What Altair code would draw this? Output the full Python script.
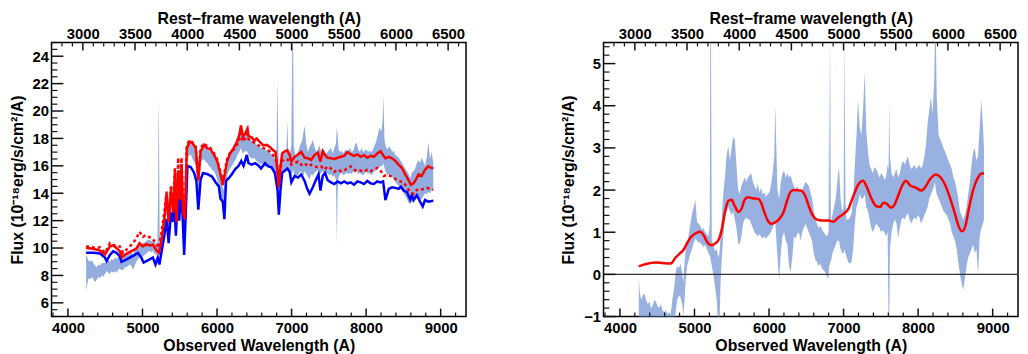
import altair as alt
import pandas as pd

FONT = "Liberation Sans"

X_DOMAIN = [3780, 9340]
REST_DOMAIN = [2700, 6671.43]   # observed / (1 + z), z = 0.4
YL_DOMAIN = [5, 25]
YR_DOMAIN = [-1, 5.5]

X_MAJOR = [4000, 5000, 6000, 7000, 8000, 9000]
X_MINOR = [3800, 4200, 4400, 4600, 4800, 5200, 5400, 5600, 5800, 6200, 6400, 6600, 6800,
           7200, 7400, 7600, 7800, 8200, 8400, 8600, 8800, 9200]
REST_MAJOR = [3000, 3500, 4000, 4500, 5000, 5500, 6000, 6500]
REST_MINOR = [r for r in range(2700, 6700, 100) if r % 500 != 0]
YL_MAJOR = [6, 8, 10, 12, 14, 16, 18, 20, 22, 24]
YL_MINOR = [5 + 0.5 * i for i in range(41) if (5 + 0.5 * i) % 2 != 0]
YR_MAJOR = [-1, 0, 1, 2, 3, 4, 5]
YR_MINOR = [round(-1 + 0.2 * i, 1) for i in range(33) if i % 5 != 0]

# ---- left panel: observed spectrum envelope (wavelength, low, high)
OBS_BAND = [
    (4244, 6.9, 9.5), (4253, 7.2, 9.4), (4275, 7.8, 9.1), (4297, 7.7, 9.0), (4320, 7.9, 9.1),
    (4342, 7.7, 8.9), (4364, 7.5, 8.7), (4386, 7.7, 8.6), (4408, 7.9, 8.8), (4430, 7.8, 8.7),
    (4452, 8.0, 8.9), (4474, 7.9, 8.9), (4497, 8.1, 8.9), (4519, 8.3, 9.0), (4541, 8.2, 9.1),
    (4563, 8.1, 9.0), (4585, 8.3, 9.2), (4607, 8.2, 9.1), (4630, 8.3, 9.3), (4652, 8.2, 9.2),
    (4674, 8.4, 9.4), (4696, 8.5, 9.3), (4718, 8.4, 9.3), (4740, 8.4, 9.4), (4762, 8.6, 9.5),
    (4784, 8.6, 9.6), (4807, 8.7, 9.7), (4829, 8.8, 9.8), (4851, 8.7, 9.7), (4873, 8.4, 9.5),
    (4895, 8.7, 9.8), (4917, 9.0, 10.0), (4939, 9.2, 10.2), (4961, 9.3, 10.3), (4984, 9.2, 10.2),
    (5006, 9.4, 10.4), (5028, 9.5, 10.4), (5050, 9.6, 10.5), (5072, 9.7, 10.6), (5094, 9.8, 10.6),
    (5117, 9.7, 10.5), (5139, 9.8, 10.5), (5161, 9.6, 10.4), (5183, 9.5, 10.3), (5200, 9.6, 10.5),
    (5210, 9.8, 14.0), (5216, 10.0, 20.9), (5222, 9.8, 18.5), (5230, 9.3, 11.0), (5245, 9.4, 10.4),
    (5260, 9.9, 11.0), (5275, 10.5, 11.8), (5293, 11.2, 12.3), (5308, 12.0, 13.3), (5324, 12.6, 14.1),
    (5338, 11.5, 12.8), (5351, 11.0, 12.2), (5366, 12.0, 13.5), (5382, 13.0, 14.4), (5397, 12.0, 13.0),
    (5413, 11.9, 13.0), (5426, 13.3, 15.0), (5435, 14.0, 15.6), (5446, 11.0, 12.4), (5457, 11.2, 12.3),
    (5468, 13.6, 15.2), (5479, 14.0, 15.8), (5491, 12.3, 13.8), (5502, 12.5, 13.8), (5515, 14.2, 15.9),
    (5524, 14.8, 16.3), (5537, 12.6, 14.0), (5550, 10.5, 12.5), (5559, 9.8, 12.0), (5570, 11.5, 13.0),
    (5581, 13.0, 15.5), (5595, 16.0, 17.3), (5612, 16.6, 17.6), (5634, 16.8, 17.8), (5652, 16.8, 17.6),
    (5670, 16.5, 17.5), (5692, 16.3, 17.3), (5714, 16.0, 17.2), (5731, 15.5, 16.5), (5749, 13.0, 15.0),
    (5765, 15.0, 16.4), (5780, 16.2, 17.0), (5803, 16.4, 17.3), (5825, 16.5, 17.5), (5847, 16.3, 17.3),
    (5869, 16.2, 17.2), (5891, 16.0, 17.1), (5913, 15.9, 17.0), (5935, 15.7, 16.9), (5958, 15.6, 16.7),
    (5980, 15.4, 16.5), (6002, 15.0, 16.2), (6024, 14.6, 15.8), (6046, 14.0, 15.3), (6068, 13.2, 14.6),
    (6090, 12.3, 14.2), (6104, 12.5, 15.0), (6121, 14.8, 16.0), (6142, 15.4, 16.4), (6165, 15.7, 16.8),
    (6187, 15.9, 17.0), (6209, 16.1, 17.2), (6231, 16.3, 17.4), (6253, 16.5, 17.6), (6275, 16.8, 17.9),
    (6298, 17.0, 18.2), (6321, 17.3, 18.7), (6343, 16.9, 18.0), (6365, 17.0, 18.3), (6387, 17.1, 18.5),
    (6409, 17.0, 18.3), (6431, 16.7, 18.0), (6453, 16.6, 17.9), (6475, 16.5, 17.8), (6497, 16.6, 17.8),
    (6520, 16.4, 17.6), (6542, 16.3, 17.5), (6564, 16.2, 17.4), (6586, 16.1, 17.3), (6608, 16.2, 17.4),
    (6630, 16.0, 17.2), (6652, 15.9, 17.1), (6675, 16.0, 17.2), (6697, 15.9, 17.0), (6719, 15.8, 16.9),
    (6741, 15.6, 16.8), (6763, 15.4, 16.6), (6785, 15.0, 16.4), (6800, 14.5, 17.5), (6807, 14.0, 22.3),
    (6815, 13.0, 20.0), (6829, 12.3, 15.0), (6845, 14.0, 16.0), (6865, 15.4, 16.6), (6887, 15.6, 16.8),
    (6909, 15.5, 16.9), (6931, 15.6, 17.2), (6943, 15.7, 19.3), (6955, 15.6, 17.0), (6975, 15.3, 16.8),
    (6997, 15.2, 17.5), (7010, 15.5, 25.5), (7020, 15.8, 25.5), (7030, 15.4, 17.5), (7053, 15.2, 16.6),
    (7075, 15.3, 16.8), (7097, 15.4, 17.2), (7119, 15.6, 17.6), (7141, 15.5, 17.8), (7163, 15.3, 18.6),
    (7175, 15.6, 18.9), (7197, 15.4, 17.6), (7219, 15.2, 17.0), (7241, 15.0, 17.4), (7263, 15.4, 17.6),
    (7285, 15.3, 17.9), (7307, 15.5, 17.4), (7330, 15.6, 17.0), (7352, 15.7, 17.2), (7374, 15.3, 17.5),
    (7396, 15.5, 17.0), (7418, 15.6, 17.3), (7440, 15.5, 17.1), (7462, 15.4, 16.9), (7484, 15.5, 17.0),
    (7507, 15.3, 17.2), (7529, 15.4, 17.3), (7551, 15.2, 16.9), (7573, 15.3, 17.3), (7595, 15.0, 17.6),
    (7608, 10.3, 18.8), (7617, 14.0, 18.4), (7630, 15.2, 17.2), (7652, 15.4, 17.0), (7674, 15.5, 17.1),
    (7696, 15.3, 16.9), (7718, 15.4, 17.2), (7740, 15.5, 17.0), (7762, 15.4, 17.1), (7784, 15.5, 17.3),
    (7806, 15.4, 17.0), (7828, 15.6, 17.1), (7850, 15.5, 17.5), (7872, 15.6, 17.7), (7894, 15.4, 17.2),
    (7916, 15.5, 17.0), (7938, 15.4, 17.3), (7960, 15.3, 17.0), (7982, 15.5, 17.1), (8004, 15.6, 17.2),
    (8026, 15.4, 17.0), (8048, 15.5, 17.1), (8070, 15.3, 17.0), (8092, 15.5, 17.2), (8114, 15.6, 17.5),
    (8136, 15.7, 17.8), (8158, 15.8, 18.3), (8180, 15.9, 18.8), (8202, 16.0, 18.5), (8220, 16.0, 19.2),
    (8232, 16.2, 21.1), (8245, 15.9, 18.0), (8260, 15.6, 17.5), (8282, 15.3, 17.2), (8304, 15.4, 17.4),
    (8326, 15.3, 17.3), (8348, 15.2, 17.0), (8370, 15.0, 17.1), (8392, 14.8, 16.8), (8414, 14.7, 16.7),
    (8436, 14.5, 16.6), (8458, 14.3, 16.4), (8481, 14.2, 16.2), (8503, 14.0, 16.0), (8525, 13.8, 15.8),
    (8547, 13.6, 15.6), (8569, 13.3, 15.4), (8591, 13.2, 15.1), (8613, 13.4, 15.5), (8636, 13.3, 15.6),
    (8658, 13.5, 15.8), (8680, 13.7, 16.2), (8702, 13.8, 16.4), (8724, 13.5, 16.2), (8746, 13.6, 16.6),
    (8768, 13.8, 16.3), (8790, 14.0, 16.0), (8813, 13.9, 16.6), (8835, 14.1, 17.7), (8857, 14.0, 16.5),
    (8879, 14.2, 17.0), (8901, 14.3, 16.2),
]

BLUE_MODEL = [
    (4244, 9.65), (4342, 9.65), (4430, 9.6), (4497, 9.3), (4519, 9.05), (4563, 9.5), (4607, 9.76),
    (4652, 9.65), (4696, 9.4), (4718, 9.0), (4762, 9.1), (4829, 9.3), (4895, 9.5), (4939, 9.65),
    (4984, 9.3), (5015, 8.94), (5072, 9.1), (5139, 9.3), (5174, 8.8), (5205, 9.3), (5227, 8.8),
    (5249, 9.5), (5293, 10.9), (5324, 12.1), (5351, 10.35), (5382, 12.6), (5404, 11.9), (5426, 13.5),
    (5448, 10.9), (5471, 13.6), (5493, 12.0), (5515, 14.0), (5537, 12.5), (5559, 9.5), (5581, 12.6),
    (5603, 16.0), (5648, 15.9), (5692, 15.5), (5723, 14.9), (5749, 12.8), (5780, 15.0), (5811, 15.46),
    (5869, 15.4), (5935, 15.2), (5980, 14.8), (6024, 14.5), (6046, 13.6), (6077, 13.4), (6099, 12.1),
    (6121, 14.9), (6157, 15.1), (6201, 15.4), (6245, 15.76), (6290, 16.0), (6325, 16.35), (6356, 16.0),
    (6400, 16.8), (6422, 16.19), (6466, 16.08), (6511, 16.19), (6555, 16.03), (6590, 15.8), (6643, 16.19),
    (6688, 15.96), (6732, 15.89), (6776, 15.49), (6812, 14.2), (6829, 12.44), (6851, 14.2), (6874, 15.49),
    (6909, 15.65), (6944, 15.8), (6975, 15.56), (6997, 14.79), (7042, 15.26), (7086, 15.14), (7130, 15.37),
    (7175, 14.9), (7210, 14.32), (7241, 13.96), (7285, 14.43), (7330, 15.02), (7361, 15.37), (7387, 14.2),
    (7418, 15.26), (7449, 15.49), (7484, 14.95), (7529, 14.79), (7573, 14.67), (7617, 14.86), (7662, 14.72),
    (7706, 14.86), (7750, 14.72), (7794, 14.79), (7839, 14.62), (7883, 14.86), (7927, 14.79), (7972, 14.67),
    (8016, 14.9), (8060, 14.72), (8104, 14.67), (8149, 14.86), (8193, 14.79), (8228, 14.86), (8259, 13.5),
    (8304, 14.32), (8348, 14.43), (8392, 14.39), (8436, 14.32), (8467, 14.48), (8503, 14.2), (8547, 14.08),
    (8591, 13.54), (8613, 13.85), (8636, 13.5), (8680, 13.85), (8724, 13.38), (8759, 13.03), (8790, 13.5),
    (8835, 13.38), (8901, 13.45),
]

RED_MODEL = [
    (4244, 10.0), (4342, 9.95), (4430, 9.81), (4497, 9.53), (4563, 10.12), (4607, 10.19), (4652, 10.0),
    (4696, 9.77), (4727, 9.34), (4784, 9.58), (4851, 9.77), (4917, 9.95), (4961, 10.35), (5006, 10.12),
    (5050, 10.28), (5094, 10.19), (5139, 10.24), (5183, 9.88), (5218, 9.65), (5249, 10.35), (5293, 12.12),
    (5324, 14.0), (5351, 11.88), (5382, 14.24), (5413, 12.59), (5435, 15.53), (5457, 11.88), (5479, 15.65),
    (5502, 13.53), (5524, 16.12), (5546, 12.59), (5568, 12.2), (5595, 17.29), (5634, 17.76), (5670, 17.65),
    (5714, 17.29), (5749, 14.94), (5780, 17.06), (5825, 17.53), (5869, 17.29), (5913, 17.18), (5958, 16.82),
    (6002, 16.35), (6046, 15.41), (6077, 14.59), (6104, 15.41), (6135, 16.35), (6179, 16.94), (6223, 17.29),
    (6267, 17.76), (6298, 18.23), (6321, 18.94), (6347, 18.12), (6378, 18.35), (6409, 18.71), (6422, 18.19),
    (6466, 18.07), (6502, 17.84), (6533, 18.0), (6577, 17.72), (6621, 17.49), (6665, 17.53), (6710, 17.37),
    (6754, 17.13), (6785, 17.02), (6812, 15.61), (6829, 14.43), (6851, 15.96), (6874, 16.9), (6909, 17.06),
    (6944, 17.13), (6975, 16.78), (6997, 16.31), (7042, 16.66), (7086, 16.83), (7130, 17.02), (7175, 16.59),
    (7219, 16.55), (7263, 16.43), (7307, 16.78), (7352, 16.97), (7387, 16.31), (7418, 17.06), (7449, 16.78),
    (7484, 16.59), (7529, 16.55), (7573, 16.5), (7617, 16.59), (7662, 16.66), (7706, 16.73), (7750, 17.02),
    (7794, 16.83), (7839, 16.73), (7883, 16.83), (7927, 16.66), (7972, 16.78), (8016, 16.59), (8060, 16.73),
    (8104, 16.66), (8149, 16.9), (8193, 17.06), (8228, 16.78), (8259, 16.55), (8304, 16.66), (8348, 16.55),
    (8392, 16.36), (8436, 16.08), (8481, 15.84), (8525, 15.37), (8569, 14.95), (8600, 14.62), (8636, 14.72),
    (8671, 15.02), (8702, 15.37), (8746, 15.26), (8790, 15.72), (8835, 15.96), (8879, 15.84), (8901, 15.84),
]

RED_DOTTED = [
    (4244, 10.12), (4297, 10.12), (4342, 10.05), (4386, 10.0), (4430, 10.05), (4497, 9.65), (4563, 10.35),
    (4607, 10.24), (4652, 10.12), (4696, 10.12), (4740, 9.65), (4807, 10.0), (4873, 10.35), (4917, 10.71),
    (4961, 11.18), (5006, 10.82), (5041, 10.94), (5085, 10.82), (5130, 10.71), (5183, 10.35), (5218, 10.0),
    (5249, 10.94), (5293, 12.59), (5324, 14.12), (5351, 12.12), (5382, 14.59), (5413, 12.82), (5435, 15.88),
    (5457, 12.12), (5479, 16.59), (5502, 13.77), (5524, 16.59), (5546, 12.82), (5568, 12.12), (5595, 17.53),
    (5634, 17.88), (5670, 17.72), (5714, 17.41), (5749, 15.06), (5780, 17.29), (5825, 17.65), (5869, 17.41),
    (5913, 17.29), (5958, 16.94), (6002, 16.47), (6046, 15.53), (6077, 14.82), (6104, 15.65), (6135, 16.47),
    (6179, 17.01), (6223, 17.18), (6267, 17.53), (6298, 17.88), (6321, 18.59), (6347, 17.76), (6378, 18.0),
    (6409, 18.35), (6422, 17.96), (6488, 17.72), (6555, 17.49), (6621, 17.3), (6688, 17.13), (6754, 16.78),
    (6798, 16.31), (6829, 14.9), (6865, 16.31), (6909, 16.5), (6953, 16.43), (6997, 16.08), (7042, 16.2),
    (7086, 16.31), (7130, 16.08), (7175, 16.2), (7219, 15.96), (7263, 16.08), (7307, 15.96), (7352, 15.89),
    (7396, 15.96), (7440, 15.72), (7484, 15.96), (7529, 15.8), (7573, 15.56), (7617, 15.72), (7662, 15.61),
    (7706, 15.65), (7750, 15.84), (7794, 15.96), (7839, 15.72), (7883, 15.61), (7927, 15.65), (7972, 15.56),
    (8016, 15.72), (8060, 15.61), (8104, 15.72), (8149, 15.84), (8193, 15.65), (8237, 15.26), (8281, 15.33),
    (8326, 15.26), (8370, 15.14), (8414, 14.95), (8458, 14.86), (8503, 14.79), (8547, 14.43), (8591, 14.08),
    (8636, 13.96), (8680, 14.25), (8724, 14.2), (8768, 14.32), (8813, 14.39), (8857, 14.32), (8901, 14.25),
]

# ---- right panel: residual spectrum envelope (wavelength, low, high) and smooth fit
RES_BAND = [
    (4253, -1.3, -0.05), (4265, -1.3, -0.4), (4284, -1.3, -0.6), (4306, -1.3, -0.5), (4328, -1.3, -0.45),
    (4350, -1.3, -0.6), (4372, -1.3, -0.7), (4394, -1.3, -0.65), (4416, -1.3, -0.8), (4438, -1.3, -0.75),
    (4460, -1.3, -0.6), (4483, -1.3, -0.65), (4505, -1.3, -0.75), (4527, -1.3, -0.8), (4549, -1.3, -0.7),
    (4571, -1.3, -0.85), (4593, -1.3, -0.9), (4615, -1.3, -0.85), (4637, -1.3, -0.95), (4659, -1.3, -0.9),
    (4681, -1.3, -0.95), (4703, -1.3, -0.6), (4725, -1.2, -0.35), (4747, -0.9, 0.05), (4769, -0.6, 0.2),
    (4791, -0.5, 0.15), (4813, -0.55, 0.25), (4835, -0.7, 0.05), (4850, -0.98, -0.2), (4868, -0.6, 0.3),
    (4880, -0.2, 0.55), (4901, 0.2, 0.75), (4924, 0.35, 0.95), (4946, 0.5, 1.2), (4968, 0.6, 1.45),
    (4990, 0.75, 1.6), (5012, 0.85, 1.77), (5034, 0.8, 1.25), (5056, 0.75, 1.2), (5078, 0.75, 1.15),
    (5100, 0.7, 1.05), (5122, 0.65, 1.1), (5144, 0.7, 1.0), (5166, 0.6, 0.95), (5188, 0.5, 0.9),
    (5205, 0.45, 1.2), (5212, 0.4, 5.6), (5222, 0.3, 5.6), (5232, 0.2, 0.8), (5254, 0.0, 0.7),
    (5276, -0.3, 0.55), (5298, -0.6, 0.6), (5320, -1.3, 0.4), (5335, -1.3, 0.5), (5350, -0.2, 0.9),
    (5364, 0.3, 1.3), (5386, 0.9, 1.9), (5408, 1.3, 2.3), (5430, 1.5, 2.8), (5453, 1.6, 3.05),
    (5475, 1.5, 2.7), (5497, 1.4, 3.0), (5519, 1.5, 3.26), (5541, 1.3, 3.2), (5563, 1.1, 2.6),
    (5585, 0.75, 2.0), (5607, 0.7, 1.9), (5629, 0.9, 2.1), (5651, 1.2, 2.2), (5673, 1.3, 2.3),
    (5695, 1.35, 2.2), (5717, 1.3, 2.3), (5739, 1.3, 2.35), (5761, 1.2, 2.4), (5783, 1.1, 2.2),
    (5805, 1.0, 2.1), (5827, 0.95, 2.0), (5849, 0.9, 2.15), (5871, 0.95, 1.95), (5893, 0.9, 2.05),
    (5915, 0.85, 1.9), (5937, 0.9, 1.95), (5959, 0.85, 1.85), (5982, 0.9, 1.9), (6004, 0.95, 1.95),
    (6026, 1.0, 2.1), (6048, 1.1, 2.4), (6070, 1.2, 2.8), (6085, 1.2, 4.0), (6095, 0.9, 3.2),
    (6114, 0.4, 2.0), (6136, -0.14, 1.8), (6158, 0.5, 2.2), (6180, 0.9, 2.4), (6202, 1.0, 2.46),
    (6224, 0.8, 2.3), (6246, 0.7, 2.4), (6268, 0.2, 2.3), (6290, 0.05, 2.35), (6312, 0.4, 2.2),
    (6334, 0.9, 2.1), (6356, 0.85, 2.0), (6378, 0.95, 2.1), (6400, 1.0, 2.0), (6423, 0.8, 1.95),
    (6445, 1.0, 2.0), (6467, 1.1, 2.1), (6489, 1.2, 2.2), (6511, 1.1, 2.15), (6533, 1.0, 2.1),
    (6555, 0.9, 1.95), (6577, 0.8, 1.8), (6600, 0.5, 1.5), (6621, 0.35, 1.3), (6643, 0.3, 1.2),
    (6665, 0.2, 1.1), (6687, 0.25, 1.15), (6709, 0.15, 1.08), (6731, 0.1, 1.0), (6753, 0.05, 0.95),
    (6776, -0.05, 0.9), (6798, -0.1, 1.0), (6806, 0.2, 5.6), (6812, 0.2, 1.5), (6820, 0.3, 5.6),
    (6830, 0.3, 1.2), (6850, 0.5, 1.4), (6872, 0.6, 1.6), (6894, 0.7, 1.8), (6916, 0.8, 2.2),
    (6938, 0.8, 2.57), (6960, 0.6, 1.8), (6982, 0.5, 1.5), (7000, 0.5, 1.6), (7013, 0.6, 5.6),
    (7025, 0.5, 1.7), (7040, 0.4, 1.3), (7062, 0.3, 1.3), (7085, 0.25, 1.35), (7107, 0.3, 1.45),
    (7129, 0.6, 1.8), (7151, 1.2, 2.6), (7173, 1.6, 3.3), (7194, 1.7, 4.14), (7216, 1.9, 3.5),
    (7238, 1.8, 3.3), (7261, 1.8, 3.9), (7283, 1.9, 4.79), (7305, 1.6, 3.4), (7327, 1.5, 2.9),
    (7349, 1.3, 2.6), (7371, 1.1, 2.5), (7393, 1.0, 2.4), (7415, 1.1, 2.55), (7437, 1.2, 2.5),
    (7459, 1.15, 2.4), (7481, 1.1, 2.3), (7503, 1.0, 2.4), (7525, 1.05, 2.35), (7547, 1.0, 2.25),
    (7569, 0.9, 2.3), (7591, 1.0, 2.6), (7604, -1.3, 2.5), (7612, -1.3, 4.07), (7622, 0.6, 2.8),
    (7644, 1.0, 2.4), (7666, 1.2, 2.3), (7688, 1.3, 2.4), (7710, 1.2, 2.5), (7732, 0.85, 2.3),
    (7754, 1.1, 2.4), (7776, 1.3, 2.6), (7798, 1.35, 2.7), (7820, 1.3, 2.6), (7842, 1.4, 2.7),
    (7864, 1.45, 2.8), (7886, 1.3, 2.6), (7908, 1.2, 2.5), (7930, 1.3, 2.55), (7952, 1.35, 2.6),
    (7974, 1.3, 2.5), (7996, 1.4, 2.55), (8018, 1.35, 2.6), (8040, 1.2, 2.5), (8062, 1.3, 2.6),
    (8084, 1.4, 2.8), (8106, 1.5, 3.1), (8128, 1.6, 3.6), (8150, 1.8, 3.9), (8172, 1.9, 4.22),
    (8194, 2.0, 3.8), (8216, 2.1, 4.6), (8226, 2.2, 5.6), (8238, 2.0, 5.6), (8250, 1.9, 4.2),
    (8275, 1.8, 3.3), (8297, 1.7, 3.2), (8319, 1.6, 3.1), (8341, 1.5, 3.0), (8363, 1.45, 2.9),
    (8385, 1.4, 2.8), (8407, 1.3, 2.7), (8429, 1.2, 2.6), (8451, 1.0, 2.5), (8473, 0.9, 2.3),
    (8495, 0.8, 2.2), (8517, 0.6, 2.0), (8539, 0.3, 1.8), (8561, 0.0, 1.5), (8583, -0.2, 1.4),
    (8605, -0.37, 1.3), (8627, -0.1, 1.4), (8650, 0.2, 1.6), (8672, 0.4, 1.9), (8694, 0.5, 2.2),
    (8716, 0.6, 2.6), (8738, 0.7, 2.9), (8760, 0.5, 3.0), (8782, 0.6, 2.7), (8804, -0.02, 2.8),
    (8826, 0.9, 3.5), (8848, 1.1, 4.14), (8870, 1.2, 3.5), (8883, 1.3, 3.0),
]

SMOOTH_FIT = [
    (4253, 0.19), (4350, 0.245), (4483, 0.28), (4571, 0.27), (4681, 0.26), (4747, 0.4), (4813, 0.51),
    (4857, 0.59), (4901, 0.74), (4946, 0.87), (5012, 0.97), (5078, 1.01), (5122, 0.93), (5166, 0.78),
    (5223, 0.69), (5276, 0.73), (5329, 0.84), (5364, 1.05), (5408, 1.47), (5453, 1.74), (5497, 1.77),
    (5541, 1.62), (5594, 1.48), (5629, 1.55), (5673, 1.77), (5717, 1.83), (5761, 1.81), (5805, 1.8),
    (5858, 1.79), (5894, 1.7), (5938, 1.47), (5982, 1.28), (6026, 1.2), (6070, 1.22), (6136, 1.31),
    (6193, 1.47), (6246, 1.77), (6290, 1.96), (6334, 2.0), (6423, 1.99), (6489, 1.85), (6533, 1.62),
    (6577, 1.43), (6643, 1.3), (6709, 1.28), (6798, 1.28), (6864, 1.25), (6930, 1.35), (6996, 1.43),
    (7062, 1.55), (7129, 1.85), (7194, 2.12), (7261, 2.22), (7305, 2.1), (7371, 1.81), (7437, 1.62),
    (7490, 1.6), (7534, 1.7), (7578, 1.68), (7635, 1.58), (7679, 1.64), (7737, 1.89), (7790, 2.12),
    (7834, 2.22), (7900, 2.1), (7966, 2.06), (8045, 1.99), (8098, 2.08), (8164, 2.27), (8239, 2.37),
    (8297, 2.31), (8363, 2.12), (8429, 1.81), (8495, 1.43), (8539, 1.16), (8592, 1.02), (8636, 1.16),
    (8680, 1.55), (8738, 2.0), (8795, 2.27), (8848, 2.39), (8883, 2.4),
]

ZERO_LINE = [0]

X_TITLE = "Observed Wavelength (A)"
TOP_TITLE = "Rest\u2212frame wavelength (A)"
Y_TITLE = "Flux (10\u207b\u00b9\u2078erg/s/cm\u00b2/A)"

LIGHT_BLUE = "#7f9ed8"
PANEL_W = 419
PANEL_H = 277
LABEL_SIZE = 15
TITLE_SIZE = 16
TICK_COLOR = "#111"


def band_df(rows):
    return pd.DataFrame(rows, columns=["w", "lo", "hi"])


def line_df(rows):
    return pd.DataFrame(rows, columns=["w", "f"])


def label_axis(orient, values, title, fmt=None, label_pad=3, title_pad=2):
    kw = dict(orient=orient, values=values, ticks=False, domain=False, grid=False,
              labelFlush=False, labelOverlap=False,
              labelFont=FONT, labelFontWeight="bold", labelFontSize=LABEL_SIZE,
              labelColor="#000", labelPadding=label_pad,
              title=title, titleFont=FONT, titleFontWeight="bold",
              titleFontSize=TITLE_SIZE, titleColor="#000", titlePadding=title_pad)
    if fmt:
        kw["format"] = fmt
    return alt.Axis(**kw)


def xenc(field, domain=X_DOMAIN, axis=None):
    return alt.X(field, type="quantitative",
                 scale=alt.Scale(domain=domain, nice=False, zero=False), axis=axis)


def yenc(field, domain, axis=None):
    return alt.Y(field, type="quantitative",
                 scale=alt.Scale(domain=domain, nice=False, zero=False), axis=axis)


def xticks(values, domain, length, width, top, axis=None):
    """Inward tick marks along the bottom (or top) frame edge."""
    if top:
        y0, y1 = alt.value(0), alt.value(length)
    else:
        y0, y1 = alt.value(PANEL_H), alt.value(PANEL_H - length)
    return alt.Chart(pd.DataFrame({"v": values})).mark_rule(
        color=TICK_COLOR, strokeWidth=width).encode(
        x=xenc("v", domain, axis), y=y0, y2=y1)


def yticks(values, domain, length, width, axis=None):
    """Inward tick marks along the left frame edge."""
    return alt.Chart(pd.DataFrame({"v": values})).mark_rule(
        color=TICK_COLOR, strokeWidth=width).encode(
        y=yenc("v", domain, axis), x=alt.value(0), x2=alt.value(length))


def frame_layers(ydom, ymajor, yminor):
    top_axis = label_axis("top", REST_MAJOR, TOP_TITLE, fmt="d", label_pad=1, title_pad=0)
    bottom_axis = label_axis("bottom", X_MAJOR, X_TITLE, fmt="d", label_pad=4, title_pad=2)
    left_axis = label_axis("left", ymajor, Y_TITLE, label_pad=3, title_pad=7)
    return [
        xticks(X_MAJOR, X_DOMAIN, 8, 1.5, False, bottom_axis),
        xticks(X_MINOR, X_DOMAIN, 4, 1.2, False),
        xticks(REST_MAJOR, REST_DOMAIN, 8, 1.5, True, top_axis),
        xticks(REST_MINOR, REST_DOMAIN, 4, 1.2, True),
        yticks(ymajor, ydom, 12, 1.5, left_axis),
        yticks(yminor, ydom, 6, 1.2),
    ]


# ---------- left panel
left_layers = [
    alt.Chart(band_df(OBS_BAND)).mark_area(color=LIGHT_BLUE, opacity=0.85, clip=True).encode(
        x=xenc("w"), y=yenc("lo", YL_DOMAIN), y2="hi"),
    alt.Chart(line_df(BLUE_MODEL)).mark_line(color="#0000ff", strokeWidth=2.5, clip=True).encode(
        x=xenc("w"), y=yenc("f", YL_DOMAIN)),
    alt.Chart(line_df(RED_DOTTED)).mark_line(color="#ff0000", strokeWidth=2.5,
                                             strokeDash=[3, 3], clip=True).encode(
        x=xenc("w"), y=yenc("f", YL_DOMAIN)),
    alt.Chart(line_df(RED_MODEL)).mark_line(color="#ff0000", strokeWidth=2.5, clip=True).encode(
        x=xenc("w"), y=yenc("f", YL_DOMAIN)),
] + frame_layers(YL_DOMAIN, YL_MAJOR, YL_MINOR)

left = alt.layer(*left_layers).resolve_scale(x="independent", y="independent").properties(
    width=PANEL_W, height=PANEL_H)

# ---------- right panel
right_layers = [
    alt.Chart(band_df(RES_BAND)).mark_area(color=LIGHT_BLUE, opacity=0.8, clip=True).encode(
        x=xenc("w"), y=yenc("lo", YR_DOMAIN), y2="hi"),
    alt.Chart(pd.DataFrame({"z": ZERO_LINE})).mark_rule(color="#333", strokeWidth=1.2).encode(
        y=yenc("z", YR_DOMAIN)),
    alt.Chart(line_df(SMOOTH_FIT)).mark_line(color="#ff0000", strokeWidth=2.5,
                                             interpolate="monotone", clip=True).encode(
        x=xenc("w"), y=yenc("f", YR_DOMAIN)),
] + frame_layers(YR_DOMAIN, YR_MAJOR, YR_MINOR)

right = alt.layer(*right_layers).resolve_scale(x="independent", y="independent").properties(
    width=PANEL_W, height=PANEL_H)

chart = alt.hconcat(left, right, spacing=94).properties(padding=0, background="white").configure_view(
    stroke="#000", strokeWidth=1.5)

chart.save("out.html", embed_options={"renderer": "svg", "actions": False})
